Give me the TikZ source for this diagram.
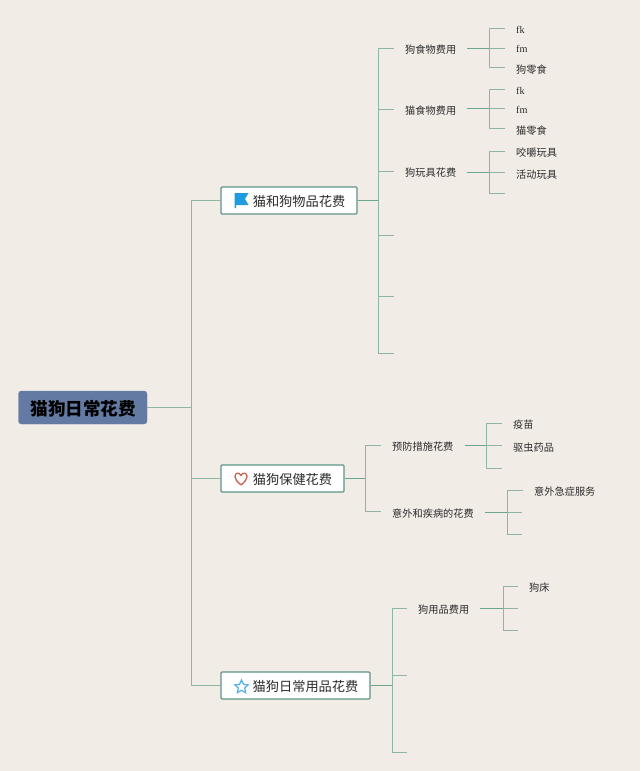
\documentclass[tikz,border=0pt]{standalone}
\usepackage{fontspec}
\usetikzlibrary{shapes.geometric}
\setmainfont{Noto Sans CJK SC}
\newfontfamily\latinserif{Liberation Serif}
\definecolor{bgc}{HTML}{F2ECE7}
\definecolor{linec}{HTML}{8FB5A4}
\definecolor{stemc}{HTML}{6AA58D}
\definecolor{rootc}{HTML}{637BA3}
\definecolor{boxc}{HTML}{5F9585}
\definecolor{inkc}{HTML}{2B2B2B}
\definecolor{flagc}{HTML}{1F9BE0}
\definecolor{heartc}{HTML}{C8604F}
\definecolor{starc}{HTML}{4FB0E8}
\tikzset{
  rootbox/.style={draw=rootc,fill=rootc,rounded corners=3pt,minimum width=128.5pt,minimum height=33pt,inner sep=0pt,text height=16pt,text depth=0pt,font=\fontsize{17.6}{20}\selectfont\bfseries,text=black},
  topicbox/.style={draw=boxc,line width=1.3pt,fill=white,rounded corners=1pt,minimum height=27pt,inner sep=0pt,text height=11pt,text depth=0pt,font=\fontsize{13.2}{15}\selectfont,text=inkc},
  sublabel/.style={anchor=west,yshift=-1pt,inner ysep=0pt,inner xsep=11pt,font=\fontsize{10.2}{12}\selectfont,text=inkc},
  leaflabel/.style={anchor=west,yshift=-1pt,inner ysep=0pt,inner xsep=11pt,font=\fontsize{10.2}{12}\selectfont,text=inkc},
  bus/.style={draw=linec,line width=1.25pt},
  mainbus/.style={draw=linec,line width=1.25pt},
  stem/.style={draw=stemc,line width=1.4pt},
}
\begin{document}
\begin{tikzpicture}[x=1pt,y=-1pt]
\useasboundingbox (0,0) rectangle (640,771);
\fill[bgc] (0,0) rectangle (640,771);

% root and topics
\node[rootbox] (root) at (82.75,407.5) {\hspace{1pt}猫狗日常花费};
\node[topicbox,minimum width=136pt] (t1) at (289,200.5) {\hspace{20pt}猫和狗物品花费};
\node[topicbox,minimum width=123pt] (t2) at (282.5,478.5) {\hspace{20pt}猫狗保健花费};
\node[topicbox,minimum width=149pt] (t3) at (295.5,685.5) {\hspace{20pt}猫狗日常用品花费};

% icons
\fill[flagc] (234.5,193) -- (248.5,193) -- (245,199) -- (248.5,205) -- (236,205) -- (236,208) -- (234.5,208) -- cycle;
\draw[heartc,line width=1.3pt,line join=round] (241,485) .. controls (237,481.5) and (235,479.5) .. (235,476.5) .. controls (235,472.5) and (239.5,472) .. (241,475.5) .. controls (242.5,472) and (247,472.5) .. (247,476.5) .. controls (247,479.5) and (245,481.5) .. (241,485) -- cycle;
\node[star,star points=5,star point ratio=2.1,draw=starc,line width=1.2pt,fill=none,minimum size=14pt,inner sep=0pt] (staricon) at (241.5,687) {};

% main bus
\coordinate (mj) at (191.5,407.5);
\coordinate (m1) at (191.5,200.5);
\coordinate (m2) at (191.5,478.5);
\coordinate (m3) at (191.5,685.5);
\draw[mainbus] (root.east) -- (mj);
\draw[mainbus] (t1.west) -- (m1) -- (m3) -- (t3.west);
\draw[mainbus] (m2) -- (t2.west);

% topic 1
\node[sublabel] (a1) at (394,49) {狗食物费用};
\node[sublabel] (a2) at (394,110) {猫食物费用};
\node[sublabel] (a3) at (394,172) {狗玩具花费};
\coordinate (b1) at (378.5,48.5);
\coordinate (b2) at (378.5,109.5);
\coordinate (b3) at (378.5,171.5);
\coordinate (b4) at (378.5,235.5);
\coordinate (b5) at (394,235.5);
\coordinate (b6) at (378.5,296.5);
\coordinate (b7) at (394,296.5);
\coordinate (b8) at (378.5,353.5);
\coordinate (b9) at (394,353.5);
\coordinate (bj) at (378.5,200.5);
\draw[stem] (t1.east) -- (bj);
\draw[bus] (a1.west |- b1) -- (b1) -- (b8) -- (b9);
\draw[bus] (b2) -- (a2.west |- b2);
\draw[bus] (b3) -- (a3.west |- b3);
\draw[bus] (b4) -- (b5);
\draw[bus] (b6) -- (b7);

% leaves of a1
\node[leaflabel] (c1) at (505,28.5) {\latinserif fk};
\node[leaflabel] (c2) at (505,48) {\latinserif fm};
\node[leaflabel] (c3) at (505,69) {狗零食};
\coordinate (d1) at (489.5,28.5);
\coordinate (d2) at (489.5,48.5);
\coordinate (d3) at (489.5,67.5);
\draw[stem] (a1.east |- d2) -- (d2);
\draw[bus] (c1.west |- d1) -- (d1) -- (d3) -- (c3.west |- d3);
\draw[bus] (d2) -- (c2.west |- d2);

% leaves of a2
\node[leaflabel] (e1) at (505,89.5) {\latinserif fk};
\node[leaflabel] (e2) at (505,108.5) {\latinserif fm};
\node[leaflabel] (e3) at (505,130) {猫零食};
\coordinate (f1) at (489.5,89.5);
\coordinate (f2) at (489.5,108.5);
\coordinate (f3) at (489.5,128.5);
\draw[stem] (a2.east |- f2) -- (f2);
\draw[bus] (e1.west |- f1) -- (f1) -- (f3) -- (e3.west |- f3);
\draw[bus] (f2) -- (e2.west |- f2);

% leaves of a3
\node[leaflabel] (g1) at (505,152) {咬嚼玩具};
\node[leaflabel] (g2) at (505,174) {活动玩具};
\coordinate (h1) at (489.5,151.5);
\coordinate (h2) at (489.5,172.5);
\coordinate (h3) at (489.5,193.5);
\coordinate (h4) at (505,193.5);
\draw[stem] (a3.east |- h2) -- (h2);
\draw[bus] (g1.west |- h1) -- (h1) -- (h3) -- (h4);
\draw[bus] (h2) -- (g2.west |- h2);

% topic 2
\node[sublabel] (p1) at (381,446) {预防措施花费};
\node[sublabel] (p2) at (381,512.5) {意外和疾病的花费};
\coordinate (q1) at (365.5,445.5);
\coordinate (q2) at (365.5,511.5);
\coordinate (qj) at (365.5,478.5);
\draw[stem] (t2.east) -- (qj);
\draw[bus] (p1.west |- q1) -- (q1) -- (q2) -- (p2.west |- q2);

\node[leaflabel] (r1) at (502,424) {疫苗};
\node[leaflabel] (r2) at (502,447) {驱虫药品};
\coordinate (s1) at (486.5,423.5);
\coordinate (s2) at (486.5,445.5);
\coordinate (s3) at (486.5,468.5);
\coordinate (s4) at (502,468.5);
\draw[stem] (p1.east |- s2) -- (s2);
\draw[bus] (r1.west |- s1) -- (s1) -- (s3) -- (s4);
\draw[bus] (s2) -- (r2.west |- s2);

\node[leaflabel] (u1) at (523,491) {意外急症服务};
\coordinate (v1) at (507.5,490.5);
\coordinate (v2) at (507.5,512.5);
\coordinate (v3) at (507.5,534.5);
\coordinate (v4) at (522,512.5);
\coordinate (v5) at (522,534.5);
\draw[stem] (p2.east |- v2) -- (v2);
\draw[bus] (u1.west |- v1) -- (v1) -- (v3) -- (v5);
\draw[bus] (v2) -- (v4);

% topic 3
\node[sublabel] (w1) at (407,609) {狗用品费用};
\coordinate (x1) at (392.5,608.5);
\coordinate (x2) at (392.5,675.5);
\coordinate (x3) at (407,675.5);
\coordinate (x4) at (392.5,752.5);
\coordinate (x5) at (407,752.5);
\coordinate (xj) at (392.5,685.5);
\draw[stem] (t3.east) -- (xj);
\draw[bus] (w1.west |- x1) -- (x1) -- (x4) -- (x5);
\draw[bus] (x2) -- (x3);

\node[leaflabel] (y1) at (518,587) {狗床};
\coordinate (z1) at (503.5,586.5);
\coordinate (z2) at (503.5,608.5);
\coordinate (z3) at (503.5,630.5);
\coordinate (z4) at (517.5,608.5);
\coordinate (z5) at (517.5,630.5);
\draw[stem] (w1.east |- z2) -- (z2);
\draw[bus] (y1.west |- z1) -- (z1) -- (z3) -- (z5);
\draw[bus] (z2) -- (z4);
\end{tikzpicture}
\end{document}
